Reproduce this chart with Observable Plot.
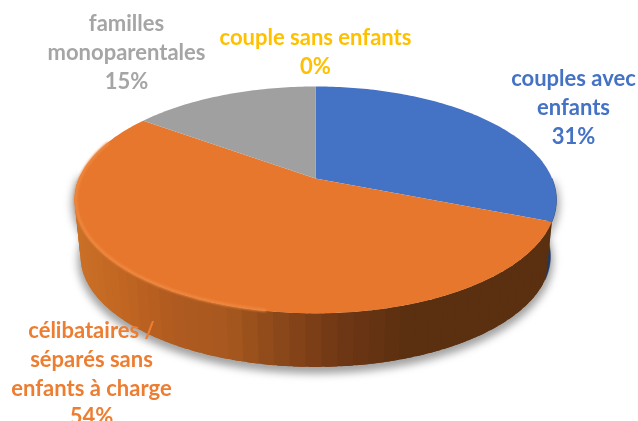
<!DOCTYPE html>
<html lang="fr"><head><meta charset="utf-8">
<style>html,body{margin:0;padding:0;background:#fff;overflow:hidden}svg{display:block}</style>
<script src="https://cdn.jsdelivr.net/npm/d3@7"></script>
<script src="https://cdn.jsdelivr.net/npm/@observablehq/plot@0.6"></script>
</head><body><div id="chart"></div>
<script>
const categories = ["couples avec\nenfants", "célibataires /\nséparés sans\nenfants à charge", "familles\nmonoparentales", "couple sans enfants"];
const shares = [31, 54, 15, 0];
const faceColors = ["#4472c4", "#e7772c", "#a0a0a0", "#ffc000"];
const labelColors = ["#4472c4", "#ed7d31", "#a5a5a5", "#ffc000"];
const wallStops = [-1, -0.8, -0.6, -0.38, -0.19, 0, 0.15, 0.4, 1];
const wallColors = ["#c96f26", "#bf6522", "#b05a20", "#a8591f", "#8f4a1a", "#7a3d17", "#6b3514", "#5a3010", "#5a3010"];

// perspective view of a round pie
const k = 0.189, A = 236.6, B = 109.4, cx = 315, cy = 178, W = 638, H = 421;
const depth = 0.52, shrink = 0.975, bandStep = 3.2;
const total = d3.sum(shares);
const P = (t, s = 1, d = 0) => {
  const u = Math.sin(t), v = -Math.cos(t), w = 1 - k * v;
  return {x: s * u / w, y: s * v / w + d};
};
const rad = (a) => a * Math.PI / 180;
const arc = (a0, a1, s, d, step = 1) => {
  const n = Math.max(1, Math.ceil((a1 - a0) / step));
  return d3.range(n + 1).map((i) => P(rad(a0 + (a1 - a0) * i / n), s, d));
};
let cum = 0;
const slices = shares.map((v, i) => {
  const a0 = cum / total * 360; cum += v; const a1 = cum / total * 360;
  return {name: categories[i], color: faceColors[i], a0, a1, v};
});
const blue = slices[0], orange = slices[1];

const face = (s) => [{x: 0, y: 0}, ...arc(s.a0, s.a1, 1, 0), {x: 0, y: 0}];
const wallPoly = (a0, a1) => [...arc(a0, a1, 1, 0, 1), ...arc(a0, a1, shrink, depth, 1).reverse()];

// orange wall in narrow overlapping bands, shaded from left to right
const bands = d3.range(orange.a0, 272, bandStep).map((a, i) => ({i, a, mid: P(rad(a + bandStep / 2)).x}));
const wallRows = bands.flatMap((b) => wallPoly(b.a, Math.min(b.a + bandStep * 1.8, 272)).map((p) => ({...p, z: b.i, t: b.mid})));
const silhouette = [...arc(90, 272, 1, 0), ...arc(90, 272, shrink, depth).reverse()];

const labelDefs = [
  {i: 0, px: 573, py: 65},
  {i: 1, px: 91, py: 317},
  {i: 2, px: 126, py: 10},
  {i: 3, px: 315, py: 24}
];

const marks = [
  Plot.line(silhouette, {x: "x", y: "y", fill: "#8a8a8a", stroke: "#8a8a8a", strokeWidth: 4, dy: 4, fillOpacity: 0.75, imageFilter: "blur(4px)"}),
  Plot.line(wallPoly(90, blue.a1 + 1), {x: "x", y: "y", fill: "#1f3864", stroke: "#1f3864", strokeWidth: 0.5}),
  Plot.line(wallRows, {x: "x", y: "y", z: "z", fill: "t", stroke: "none", imageFilter: "blur(0.4px)"}),
  ...slices.filter((s) => s.v > 0).map((s) => Plot.line(face(s), {x: "x", y: "y", fill: s.color, stroke: "none", imageFilter: "blur(0.5px)"})),
  Plot.line(arc(190, 290, 0.995, 0), {x: "x", y: "y", stroke: "#f08a42", strokeWidth: 3, strokeOpacity: 0.9, imageFilter: "blur(0.8px)"}),
  ...labelDefs.map((l) => Plot.text([`${categories[l.i]}\n${shares[l.i]}%`], {
    text: (d) => d, frameAnchor: "top-left", textAnchor: "middle", lineAnchor: "top", dx: l.px, dy: l.py,
    fill: labelColors[l.i], fontSize: 22, fontWeight: 700, fontFamily: "Lato", lineHeight: 1.31, imageFilter: "blur(0.35px)"
  }))
];

const chart = Plot.plot({
  width: W, height: H, margin: 0,
  x: {domain: [-cx / A, (W - cx) / A], range: [0, W], axis: null},
  y: {domain: [-cy / B, (H - cy) / B], range: [0, H], axis: null},
  color: {type: "linear", domain: wallStops, range: wallColors, interpolate: "rgb"},
  style: {background: "#fff", overflow: "hidden"},
  marks
});
document.getElementById("chart").append(chart);
</script></body></html>
